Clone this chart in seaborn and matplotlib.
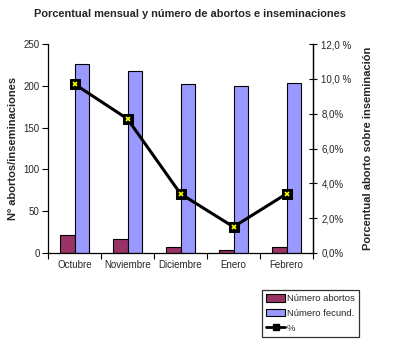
import matplotlib
matplotlib.use("Agg")
import matplotlib.pyplot as plt
import seaborn as sns
import pandas as pd
import numpy as np
from matplotlib.patches import Patch
from matplotlib.lines import Line2D

months = ["Octubre", "Noviembre", "Diciembre", "Enero", "Febrero"]
abortos = [22, 17, 7, 3, 7]
fecund = [226, 218, 202, 200, 203]
pct = [9.7, 7.7, 3.4, 1.5, 3.4]
series_names = ["Número abortos", "Número fecund."]
left_ticks = [0, 50, 100, 150, 200, 250]
right_ticks = [0, 2, 4, 6, 8, 10, 12]
right_labels = ["0,0%", "2,0%", "4,0%", "6,0%", "8,0%", "10,0 %", "12,0 %"]

sns.set_theme(style="white")
plt.rcParams['font.family'] = ['Liberation Sans', 'DejaVu Sans']

df = pd.DataFrame({
    "mes": months * 2,
    "serie": [series_names[0]] * 5 + [series_names[1]] * 5,
    "valor": abortos + fecund,
})

W, H = 393, 349
fig = plt.figure(figsize=(W / 100, H / 100), dpi=100)
ax = fig.add_axes([48 / W, 1 - 253 / H, (313 - 48) / W, (253 - 44) / H])

colors = {"Número abortos": "#993366", "Número fecund.": "#9999FF"}
sns.barplot(data=df, x="mes", y="valor", hue="serie", palette=colors,
            width=0.566, gap=0, edgecolor="black", linewidth=0.8,
            legend=False, ax=ax, saturation=1)

ax.set_ylim(0, 250)
ax.set_xlim(-0.5, 4.5)
ax.set_yticks(left_ticks)
ax.set_yticklabels([str(t) for t in left_ticks], fontsize=7)
ax.set_xticks(np.arange(-0.5, 5, 1))
ax.set_xticklabels([""] * 6)
ax.set_xticks(range(5), minor=True)
ax.set_xticklabels(months, minor=True, fontsize=7)
ax.tick_params(axis="x", which="minor", length=0, pad=5)
ax.tick_params(axis="x", which="major", direction="out", length=4, width=0.8, color="black", bottom=True)
ax.tick_params(axis="y", direction="out", length=4, width=0.8, color="black", left=True, pad=2)
ax.set_xlabel("")
ax.set_ylabel("Nº abortos/inseminaciones", fontsize=8, fontweight="bold", labelpad=4)
ax.spines["top"].set_visible(False)
for s in ["left", "bottom", "right"]:
    ax.spines[s].set_visible(True)
    ax.spines[s].set_color("black")
    ax.spines[s].set_linewidth(0.9)

ax2 = ax.twinx()
sns.lineplot(x=list(range(5)), y=pct, ax=ax2, color="black", linewidth=2.2,
             marker="s", markersize=6.5, markerfacecolor="black", markeredgecolor="black")
ax2.plot(range(5), pct, linestyle="none", marker="x", markersize=3.2,
         color="#FFFF00", markeredgewidth=1.2)
ax2.set_ylim(0, 12)
ax2.set_yticks(right_ticks)
ax2.set_yticklabels(right_labels, fontsize=7)
ax2.tick_params(axis="y", direction="inout", length=6, width=0.8, color="black", right=True, pad=3)
ax2.set_ylabel("Porcentual aborto sobre inseminación", fontsize=8, fontweight="bold", labelpad=8)
ax2.spines["top"].set_visible(False)
ax2.spines["right"].set_color("black")
ax2.spines["right"].set_linewidth(0.9)
ax2.spines["left"].set_visible(False)
ax2.spines["bottom"].set_visible(False)
ax2.set_xlim(-0.5, 4.5)

fig.text(190 / W, 1 - 14 / H, "Porcentual mensual y número de abortos e inseminaciones",
         ha="center", va="center", fontsize=7.9, fontweight="bold")

handles = [
    Patch(facecolor="#993366", edgecolor="black", linewidth=0.8, label="Número abortos"),
    Patch(facecolor="#9999FF", edgecolor="black", linewidth=0.8, label="Número fecund."),
    Line2D([0], [0], color="black", linewidth=2, marker="s", markersize=5,
           markerfacecolor="black", label="%"),
]
leg = fig.legend(handles=handles, loc="upper left", bbox_to_anchor=(262 / W, 1 - 290 / H),
                 fontsize=6.8, frameon=True, fancybox=False, edgecolor="black",
                 handlelength=2.0, handleheight=0.8, borderpad=0.45, labelspacing=0.6,
                 handletextpad=0.2, borderaxespad=0)
leg.get_frame().set_linewidth(0.9)

fig.savefig("out.png", dpi=100)
